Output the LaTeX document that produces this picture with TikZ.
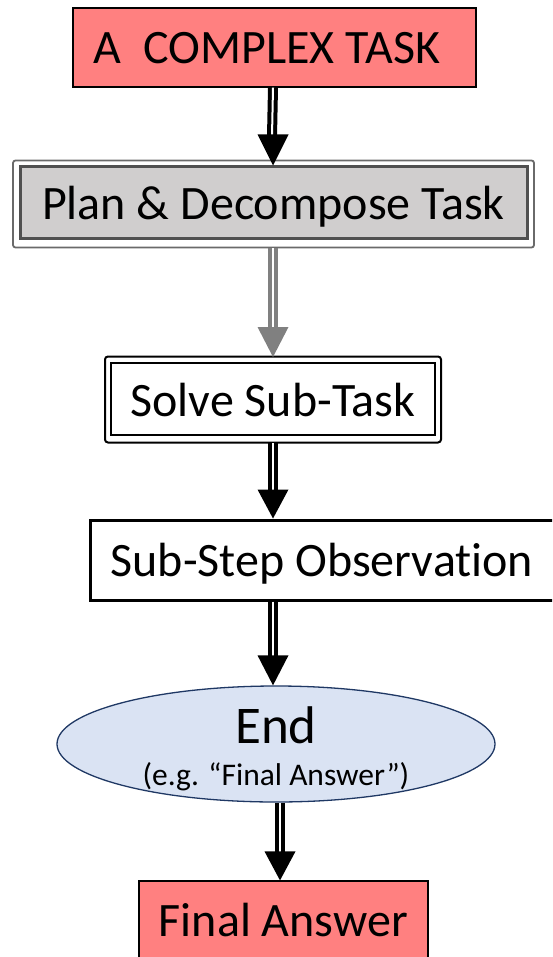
\documentclass[tikz,border=0pt]{standalone}
\usepackage{fontspec}
\setmainfont{Carlito}[Ligatures={NoCommon}]
\usetikzlibrary{calc,shapes.geometric}
\definecolor{salmon}{HTML}{FF8080}
\definecolor{plangray}{HTML}{D0CECE}
\definecolor{planline}{HTML}{505050}
\definecolor{planouter}{HTML}{6A6A6A}
\definecolor{endfill}{HTML}{DAE3F3}
\definecolor{endline}{HTML}{1F3864}
\definecolor{arrgray}{HTML}{808080}
\begin{document}
\begin{tikzpicture}[x=1pt,y=-1pt,
  box/.style={rectangle, inner sep=0pt, text height=33pt, text depth=0pt,
              font=\fontsize{48}{54}\selectfont},
  shaft/.style={draw=#1, double=white, double distance=2pt, line width=4pt},
  head/.style={fill=#1},
]
\useasboundingbox (0,0) rectangle (552,957);
\clip (0,0) rectangle (552,957);

% nodes
\node[box, draw, line width=1.2pt, fill=salmon, minimum width=403pt, minimum height=79pt]
  (task) at (274.5,47.5) {A\ \ COMPLEX TASK\hspace*{15pt}};

\node[box, draw=planline, line width=3pt, fill=plangray, minimum width=507pt, minimum height=72pt, text height=34pt]
  (plan) at (273.5,203) {Plan \& Decompose Task};
\draw[planouter, line width=1.8pt, rounded corners=2.5pt]
  ([shift={(-5.5pt,5pt)}]plan.north west) rectangle ([shift={(5.5pt,-7pt)}]plan.south east);

\node[box, draw, line width=2pt, fill=white, minimum width=324pt, minimum height=72pt, text height=35pt]
  (solve) at (273,399) {Solve Sub-Task};
\draw[black, line width=2pt, rounded corners=3pt]
  ([shift={(-5pt,5.5pt)}]solve.north west) rectangle ([shift={(5pt,-6.5pt)}]solve.south east);

\node[box, draw, line width=3pt, fill=white, minimum width=464pt, minimum height=80pt]
  (obs) at (322,560) {Sub-Step Observation};

\node[ellipse, draw=endline, line width=1.3pt, fill=endfill, inner sep=0pt,
      minimum width=438pt, minimum height=116pt] (end) at (276,744) {};
\node[anchor=base, inner sep=0pt, font=\fontsize{53}{58}\selectfont] (endtxt) at (276,743) {End};
\node[anchor=base, inner sep=0pt, font=\fontsize{31.5}{34}\selectfont] (endsub) at (276,785) {(e.g. “Final Answer”)};

\node[box, draw, line width=1.2pt, fill=salmon, minimum width=289pt, minimum height=81pt, text height=30pt]
  (final) at (283.5,921.5) {Final Answer};

% connectors
\draw[shaft=black] ([xshift=-1.5pt]task.south) -- ([xshift=-1.5pt,yshift=29pt]plan.north);
\fill[black] ([xshift=-0.5pt]plan.north) -- ++(-15.5,-31) -- ++(31,0) -- cycle;

\draw[shaft=arrgray] ([xshift=-0.5pt,yshift=-8pt]plan.south) -- ([yshift=34pt]solve.north);
\fill[arrgray] ([yshift=5pt]solve.north) -- ++(-15.5,-30) -- ++(31,0) -- cycle;

\draw[shaft=black] ([yshift=-7pt]solve.south) -- ([xshift=-49pt,yshift=27pt]obs.north);
\fill[black] ([xshift=-49pt]obs.north) -- ++(-15.5,-29) -- ++(31,0) -- cycle;

\draw[shaft=black] ([xshift=-49pt]obs.south) -- ([xshift=-3pt,yshift=29pt]end.north);
\fill[black] ([xshift=-3pt]end.north) -- ++(-15.5,-30) -- ++(31,0) -- cycle;

\draw[shaft=black] ([xshift=4pt]end.south) -- ([xshift=-3.5pt,yshift=28pt]final.north);
\fill[black] ([xshift=-3.5pt]final.north) -- ++(-15.5,-29) -- ++(31,0) -- cycle;
\end{tikzpicture}
\end{document}
